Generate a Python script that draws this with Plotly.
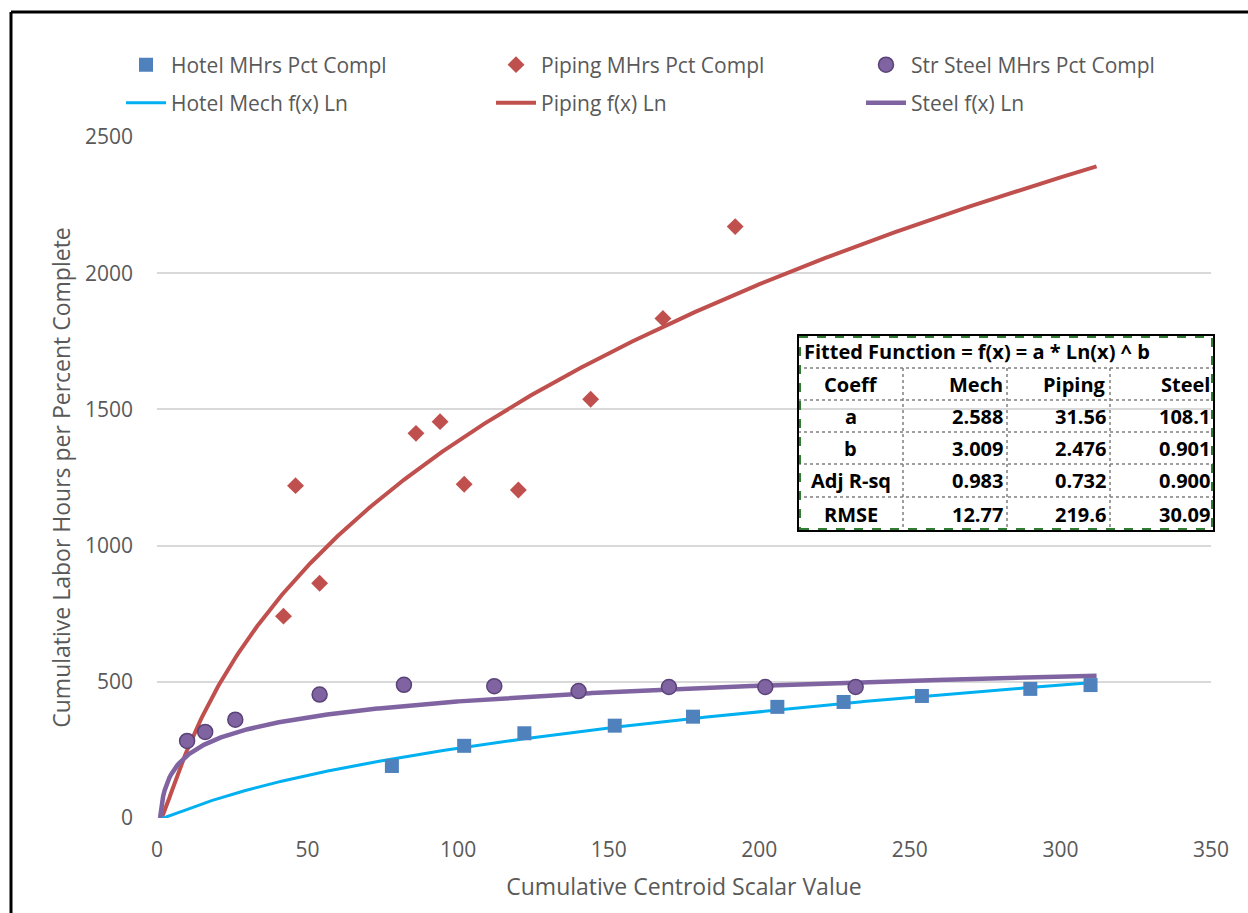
import numpy as np
import plotly.graph_objects as go

# Observed cumulative labor hours per percent complete
hotel_x = [78, 102, 122, 152, 178, 206, 228, 254, 290, 310]
hotel_y = [191, 265, 311, 339, 372, 408, 426, 448, 474, 488]

piping_x = [42, 46, 54, 86, 94, 102, 120, 144, 168, 192]
piping_y = [741, 1220, 862, 1412, 1455, 1225, 1204, 1537, 1834, 2171]

steel_x = [10, 16, 26, 54, 82, 112, 140, 170, 202, 232]
steel_y = [283, 316, 361, 453, 489, 484, 466, 481, 481, 481]

# Fitted f(x) = a * Ln(x) ^ b  (columns: Mech, Piping, Steel)
fit_cols = ["Mech", "Piping", "Steel"]
fit_a = [2.588, 31.56, 108.1]
fit_b = [3.009, 2.476, 0.901]
fit_adj_r2 = ["0.983", "0.732", "0.900"]
fit_rmse = ["12.77", "219.6", "30.09"]
fit_a_txt = ["2.588", "31.56", "108.1"]
fit_b_txt = ["3.009", "2.476", "0.901"]
curve_x_max = 312

FONT = "Open Sans, Liberation Sans, sans-serif"
GRAY = "#595959"

# Plot-area geometry in pixels
W, H = 1248, 913
L, R, T, B = 157, 1211, 137, 818


def px(x):
    return (x - L) / (R - L)


def py(y):
    return (B - y) / (B - T)


xs = np.linspace(1, curve_x_max, 600)


def fcurve(i):
    return fit_a[i] * np.log(xs) ** fit_b[i]


fig = go.Figure()

fig.add_trace(go.Scatter(x=piping_x, y=piping_y, mode="markers", name="Piping MHrs Pct Compl",
                         marker=dict(symbol="diamond", size=13, color="#c0504d"),
                         legend="legend", legendrank=2))
fig.add_trace(go.Scatter(x=xs, y=fcurve(1), mode="lines", name="Piping f(x) Ln",
                         line=dict(color="#c0504d", width=4), legend="legend2", legendrank=2))
fig.add_trace(go.Scatter(x=xs, y=fcurve(0), mode="lines", name="Hotel Mech f(x) Ln",
                         line=dict(color="#00b0f0", width=3), legend="legend2", legendrank=1))
fig.add_trace(go.Scatter(x=xs, y=fcurve(2), mode="lines", name="Steel f(x) Ln",
                         line=dict(color="#8064a2", width=4.5), legend="legend2", legendrank=3))
fig.add_trace(go.Scatter(x=hotel_x, y=hotel_y, mode="markers", name="Hotel MHrs Pct Compl",
                         marker=dict(symbol="square", size=14, color="#4f81bd"),
                         legend="legend", legendrank=1))
fig.add_trace(go.Scatter(x=steel_x, y=steel_y, mode="markers", name="Str Steel MHrs Pct Compl",
                         marker=dict(symbol="circle", size=15, color="#8064a2",
                                     line=dict(color="#5a4378", width=1.5)),
                         legend="legend", legendrank=3))

shapes = []
annotations = []

# Frame lines along top and left edge of the figure
shapes.append(dict(type="line", xref="paper", yref="paper", x0=px(11), x1=px(W + 5),
                   y0=py(12), y1=py(12), line=dict(color="black", width=3)))
shapes.append(dict(type="line", xref="paper", yref="paper", x0=px(11), x1=px(11),
                   y0=py(12), y1=py(H + 5), line=dict(color="black", width=3)))

# Coefficient table
tx0, tx1, ty0, ty1 = 798, 1214, 335, 531
col_edges = [798, 903, 1007, 1110, 1214]
row_edges = [335, 368, 400, 432, 464, 497, 531]
for yy in row_edges[1:-1]:
    shapes.append(dict(type="line", xref="paper", yref="paper", x0=px(tx0), x1=px(tx1),
                       y0=py(yy), y1=py(yy), line=dict(color="#7f7f7f", width=1.5, dash="dot")))
for xx in col_edges[1:-1]:
    shapes.append(dict(type="line", xref="paper", yref="paper", x0=px(xx), x1=px(xx),
                       y0=py(row_edges[1]), y1=py(ty1),
                       line=dict(color="#7f7f7f", width=1.5, dash="dot")))
shapes.append(dict(type="rect", xref="paper", yref="paper", x0=px(tx0), x1=px(tx1),
                   y0=py(ty1), y1=py(ty0), line=dict(color="black", width=2)))
shapes.append(dict(type="rect", xref="paper", yref="paper", x0=px(tx0 + 2), x1=px(tx1 - 2),
                   y0=py(ty1 - 2), y1=py(ty0 + 2), line=dict(color="#2e7d32", width=2, dash="dash")))

TFONT = dict(family="Open Sans, Liberation Sans, sans-serif", size=20, color="black")


def cell_text(text, x, y, xanchor):
    annotations.append(dict(xref="paper", yref="paper", x=px(x), y=py(y), text="<b>%s</b>" % text,
                            showarrow=False, xanchor=xanchor, yanchor="middle", font=TFONT))


cell_text("Fitted Function = f(x) = a * Ln(x) ^ b", 802, (row_edges[0] + row_edges[1]) / 2, "left")
row_labels = ["Coeff", "a", "b", "Adj R-sq", "RMSE"]
row_vals = [fit_cols, fit_a_txt, fit_b_txt, fit_adj_r2, fit_rmse]
for r, (lab, vals) in enumerate(zip(row_labels, row_vals)):
    yc = (row_edges[r + 1] + row_edges[r + 2]) / 2
    cell_text(lab, (col_edges[0] + col_edges[1]) / 2, yc, "center")
    for c, v in enumerate(vals):
        cell_text(v, col_edges[c + 2] - 2, yc, "right")

legend_common = dict(orientation="h", xanchor="left", yanchor="middle", entrywidth=315,
                     font=dict(family=FONT, size=21, color=GRAY), bgcolor="rgba(0,0,0,0)",
                     itemwidth=40)

fig.update_layout(
    width=W, height=H,
    margin=dict(l=L, r=W - R, t=T, b=H - B),
    paper_bgcolor="white", plot_bgcolor="white",
    font=dict(family=FONT, color=GRAY),
    showlegend=True,
    legend=dict(x=px(121), y=py(65), **legend_common),
    legend2=dict(x=px(121), y=py(103), **legend_common),
    xaxis=dict(range=[0, 350], dtick=50, showgrid=False, zeroline=False, showline=False,
               ticks="", tickfont=dict(size=21, color=GRAY), ticklabelstandoff=17,
               title=dict(text="Cumulative Centroid Scalar Value", font=dict(size=23, color=GRAY),
                          standoff=16)),
    yaxis=dict(range=[0, 2500], dtick=500, showgrid=True, gridcolor="#d9d9d9", gridwidth=2,
               zeroline=False, showline=False, ticks="", tickfont=dict(size=21, color=GRAY),
               ticklabelstandoff=23,
               title=dict(text="Cumulative Labor Hours per Percent Complete",
                          font=dict(size=23, color=GRAY), standoff=7)),
    shapes=shapes,
    annotations=annotations,
)

fig.write_html("out.html")
